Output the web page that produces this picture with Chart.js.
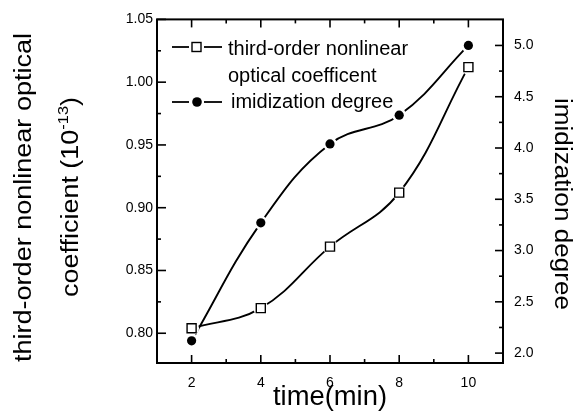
<!DOCTYPE html>
<html>
<head>
<meta charset="utf-8">
<script src="https://cdn.jsdelivr.net/npm/chart.js@4.4.1/dist/chart.umd.min.js"></script>
<style>
  html, body { margin: 0; padding: 0; background: #fff; }
  #wrap { width: 574px; height: 412px; }
</style>
</head>
<body>
<div id="wrap"><canvas id="chart"></canvas></div>
<script>
const times = [2, 4, 6, 8, 10];
const chi3 = [0.804, 0.820, 0.869, 0.912, 1.012];
const imidization = [2.12, 3.27, 4.04, 4.32, 5.0];

const xTicks = [2, 4, 6, 8, 10];
const xTickLabels = ['2', '4', '6', '8', '10'];
const leftTicks = [0.80, 0.85, 0.90, 0.95, 1.00, 1.05];
const leftTickLabels = ['0.80', '0.85', '0.90', '0.95', '1.00', '1.05'];
const rightTicks = [2.0, 2.5, 3.0, 3.5, 4.0, 4.5, 5.0];
const rightTickLabels = ['2.0', '2.5', '3.0', '3.5', '4.0', '4.5', '5.0'];

const legendRows = ['third-order nonlinear', 'optical coefficent', 'imidization degree'];
const leftTitle = ['third-order nonlinear optical', 'coefficient (10', '-13', ')'];
const rightTitle = 'imidization degree';
const bottomTitle = 'time(min)';

const FONT = '"Liberation Sans", Arial, Helvetica, sans-serif';

const toPoints = (ys) => times.map((t, i) => ({ x: t, y: ys[i] }));

// draws a piece of text stretched along its length to a given size
function drawStretched(ctx, parts, cx, cy, rot, len) {
  ctx.save();
  let w = 0;
  parts.forEach(p => { ctx.font = p.font; w += ctx.measureText(p.text).width; });
  ctx.translate(cx, cy);
  ctx.rotate(rot);
  ctx.scale(len / w, 1);
  ctx.textAlign = 'left';
  ctx.textBaseline = 'alphabetic';
  ctx.fillStyle = '#000';
  let x = -w / 2;
  parts.forEach(p => {
    ctx.font = p.font;
    ctx.fillText(p.text, x, p.dy || 0);
    x += ctx.measureText(p.text).width;
  });
  ctx.restore();
}

function marks(ctx, scale, values, len, side, area) {
  values.forEach(v => {
    const p = scale.getPixelForValue(v);
    ctx.beginPath();
    if (side === 'left') { ctx.moveTo(area.left, p); ctx.lineTo(area.left + len, p); }
    if (side === 'right') { ctx.moveTo(area.right, p); ctx.lineTo(area.right - len, p); }
    if (side === 'bottom') { ctx.moveTo(p, area.bottom); ctx.lineTo(p, area.bottom - len); }
    if (side === 'top') { ctx.moveTo(p, area.top); ctx.lineTo(p, area.top + len); }
    ctx.stroke();
  });
}

const decorations = {
  id: 'decorations',
  afterDraw(chart) {
    const ctx = chart.ctx;
    const a = chart.chartArea;
    const sx = chart.scales.x, sy = chart.scales.y, sy1 = chart.scales.y1;
    ctx.save();
    ctx.strokeStyle = '#000';
    ctx.lineWidth = 2;
    ctx.strokeRect(a.left, a.top, a.right - a.left, a.bottom - a.top);

    const xMinor = [], leftMinor = [], rightMinor = [];
    for (let v = 3; v < 10; v += 2) xMinor.push(v);
    for (let v = 0.825; v < 1.04; v += 0.05) leftMinor.push(v);
    for (let v = 2.25; v < 5; v += 0.5) rightMinor.push(v);

    ctx.lineWidth = 1.6;
    marks(ctx, sx, xTicks, 8, 'bottom', a);
    marks(ctx, sx, xTicks, 8, 'top', a);
    marks(ctx, sx, xMinor, 4, 'bottom', a);
    marks(ctx, sx, xMinor, 4, 'top', a);
    marks(ctx, sy, leftTicks, 9, 'left', a);
    marks(ctx, sy, leftMinor, 4, 'left', a);
    marks(ctx, sy1, rightTicks, 8, 'right', a);
    marks(ctx, sy1, rightMinor, 4, 'right', a);

    // legend
    ctx.lineWidth = 1.8;
    const rowY = [47, 102];
    [[172, 189], [204, 222]].forEach(([x0, x1]) => {
      rowY.forEach(y => {
        ctx.beginPath(); ctx.moveTo(x0, y); ctx.lineTo(x1, y); ctx.stroke();
      });
    });
    ctx.fillStyle = '#fff';
    ctx.lineWidth = 1.4;
    ctx.fillRect(192, 42.5, 9, 9);
    ctx.strokeRect(192, 42.5, 9, 9);
    ctx.fillStyle = '#000';
    ctx.beginPath(); ctx.arc(197, 102, 4.8, 0, Math.PI * 2); ctx.fill();

    ctx.font = '20px ' + FONT;
    ctx.textAlign = 'left';
    ctx.textBaseline = 'alphabetic';
    ctx.fillText(legendRows[0], 228, 55);
    ctx.fillText(legendRows[1], 228, 82);
    ctx.fillText(legendRows[2], 231, 108);
    ctx.restore();

    // axis titles
    const big = '23px ' + FONT;
    drawStretched(ctx, [{ text: leftTitle[0], font: big }], 31, 197.5, -Math.PI / 2, 329);
    drawStretched(ctx, [
      { text: leftTitle[1], font: big },
      { text: leftTitle[2], font: '14px ' + FONT, dy: -10 },
      { text: leftTitle[3], font: big }
    ], 78, 197, -Math.PI / 2, 200);
    drawStretched(ctx, [{ text: rightTitle, font: big }], 554.5, 204, Math.PI / 2, 212);
    drawStretched(ctx, [{ text: bottomTitle, font: '27px ' + FONT }], 330, 405, 0, 114);
  }
};

const tickFont = { family: FONT, size: 14 };

new Chart(document.getElementById('chart'), {
  type: 'line',
  data: {
    datasets: [
      {
        data: toPoints(chi3), yAxisID: 'y', order: 2,
        borderColor: '#000', borderWidth: 1.9, tension: 0.4, fill: false,
        pointStyle: 'circle', pointRadius: 7.5, pointBackgroundColor: '#fff', pointBorderWidth: 0
      },
      {
        data: toPoints(imidization), yAxisID: 'y1', order: 2,
        borderColor: '#000', borderWidth: 1.9, tension: 0.4, fill: false,
        pointStyle: 'circle', pointRadius: 7, pointBackgroundColor: '#fff', pointBorderWidth: 0
      },
      {
        data: toPoints(chi3), yAxisID: 'y', order: 1, showLine: false,
        pointStyle: 'rect', pointRadius: 6.4, pointBackgroundColor: '#fff',
        pointBorderColor: '#000', pointBorderWidth: 1.4
      },
      {
        data: toPoints(imidization), yAxisID: 'y1', order: 1, showLine: false,
        pointStyle: 'circle', pointRadius: 4.6, pointBackgroundColor: '#000',
        pointBorderColor: '#000', pointBorderWidth: 0
      }
    ]
  },
  options: {
    responsive: true,
    maintainAspectRatio: false,
    animation: false,
    layout: { padding: { top: 16, left: 0, right: 0, bottom: 0 } },
    plugins: { legend: { display: false }, tooltip: { enabled: false } },
    scales: {
      x: {
        type: 'linear', min: 1, max: 11,
        grid: { display: false, drawTicks: false }, border: { display: false },
        afterBuildTicks: (s) => { s.ticks = xTicks.map(v => ({ value: v })); },
        afterFit: (s) => { s.height = 49; },
        ticks: { color: '#000', font: tickFont, padding: 12, maxRotation: 0,
          callback: (v, i) => xTickLabels[i] }
      },
      y: {
        type: 'linear', position: 'left', min: 0.7763, max: 1.05,
        grid: { display: false, drawTicks: false }, border: { display: false },
        afterBuildTicks: (s) => { s.ticks = leftTicks.map(v => ({ value: v })); },
        afterFit: (s) => { s.width = 157; },
        ticks: { color: '#000', font: tickFont, padding: 4,
          callback: (v, i) => leftTickLabels[i] }
      },
      y1: {
        type: 'linear', position: 'right', min: 1.9035, max: 5.254,
        grid: { display: false, drawTicks: false }, border: { display: false },
        afterBuildTicks: (s) => { s.ticks = rightTicks.map(v => ({ value: v })); },
        afterFit: (s) => { s.width = 71; },
        ticks: { color: '#000', font: tickFont, padding: 11,
          callback: (v, i) => rightTickLabels[i] }
      }
    }
  },
  plugins: [decorations]
});
</script>
</body>
</html>
